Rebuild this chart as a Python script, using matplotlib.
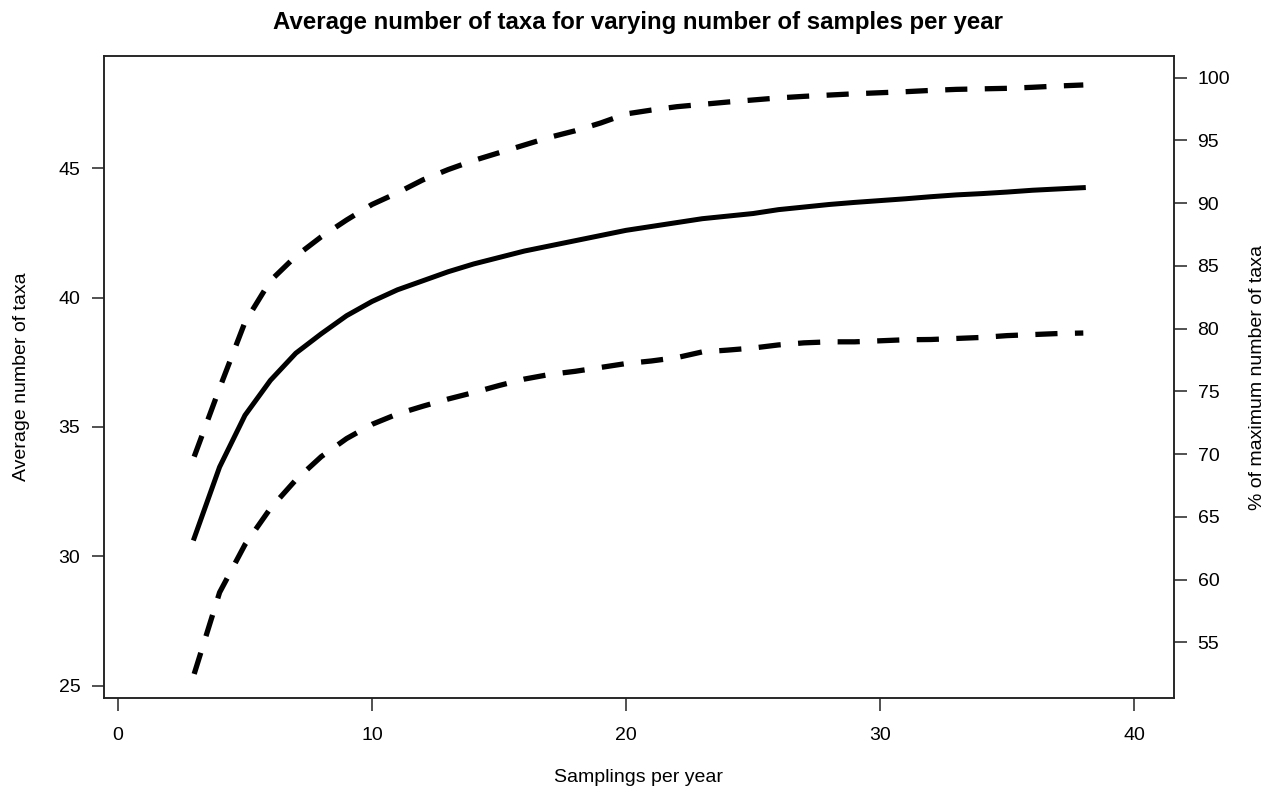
import matplotlib
matplotlib.use("Agg")
import matplotlib.pyplot as plt

plt.rcParams['font.family'] = ['Liberation Sans', 'DejaVu Sans']

# samplings per year
samplings = list(range(3, 39))

# average number of taxa (solid) and the upper / lower bounds (dashed)
mean_taxa = [30.7, 33.45, 35.45, 36.8, 37.85, 38.6, 39.3, 39.85, 40.3, 40.65,
             41.0, 41.3, 41.55, 41.8, 42.0, 42.2, 42.4, 42.6, 42.75, 42.9,
             43.05, 43.15, 43.25, 43.4, 43.5, 43.6, 43.68, 43.75, 43.82, 43.9,
             43.97, 44.02, 44.08, 44.15, 44.2, 44.25]
upper_taxa = [33.85, 36.5, 39.05, 40.65, 41.6, 42.35, 43.0, 43.6, 44.05, 44.55,
              44.95, 45.3, 45.6, 45.9, 46.2, 46.45, 46.75, 47.1, 47.25, 47.38,
              47.47, 47.56, 47.64, 47.72, 47.78, 47.83, 47.88, 47.92, 47.96, 48.01,
              48.05, 48.07, 48.09, 48.13, 48.18, 48.22]
lower_taxa = [25.45, 28.6, 30.45, 31.85, 32.95, 33.85, 34.55, 35.1, 35.5, 35.8,
              36.08, 36.33, 36.6, 36.85, 37.03, 37.15, 37.3, 37.45, 37.55, 37.68,
              37.9, 37.97, 38.05, 38.17, 38.25, 38.29, 38.29, 38.33, 38.37, 38.38,
              38.42, 38.46, 38.53, 38.57, 38.61, 38.63]

max_taxa = 48.5  # taxa count that equals 100 % on the right axis

x_ticks = [0, 10, 20, 30, 40]
y_ticks = [25, 30, 35, 40, 45]
pct_ticks = [55, 60, 65, 70, 75, 80, 85, 90, 95, 100]

fig = plt.figure(figsize=(12.73, 7.92), dpi=100)
ax = fig.add_axes([104 / 1273, 1 - 698 / 792, 1070 / 1273, 642 / 792])

ax.plot(samplings, mean_taxa, color='black', lw=3.6, solid_joinstyle='round')
ax.plot(samplings, upper_taxa, color='black', lw=3.8, dashes=(4.2, 3.3))
ax.plot(samplings, lower_taxa, color='black', lw=3.8, dashes=(4.2, 3.3))

ax.set_xlim(-0.55, 41.57)
ax.set_ylim(24.52, 49.34)
ax.set_xticks(x_ticks)
ax.set_yticks(y_ticks)
ax.tick_params(direction='out', length=9, width=1.1, labelsize=14, color='#222222')
ax.tick_params(axis='x', pad=12)
ax.tick_params(axis='y', pad=8)
for s in ax.spines.values():
    s.set_linewidth(1.1)
    s.set_color('#222222')

# right axis in % of the maximum number of taxa
ax2 = ax.twinx()
lo, hi = ax.get_ylim()
ax2.set_ylim(lo / max_taxa * 100, hi / max_taxa * 100)
ax2.set_yticks(pct_ticks)
ax2.tick_params(direction='out', length=9, width=1.1, labelsize=14, pad=8, color='#222222')
for s in ax2.spines.values():
    s.set_linewidth(1.1)
    s.set_color('#222222')

fig.text(638 / 1273, 1 - 22 / 792, 'Average number of taxa for varying number of samples per year',
         ha='center', va='center', fontsize=17.3, fontweight='bold')
fig.text(639 / 1273, 1 - 778 / 792, 'Samplings per year', ha='center', va='center', fontsize=14)
fig.text(22 / 1273, 1 - 377 / 792, 'Average number of taxa', ha='center', va='center',
         rotation=90, fontsize=14)
fig.text(1258 / 1273, 1 - 377 / 792, '% of maximum number of taxa', ha='center', va='center',
         rotation=90, fontsize=14)

fig.savefig('out.png', dpi=100, facecolor='white')
